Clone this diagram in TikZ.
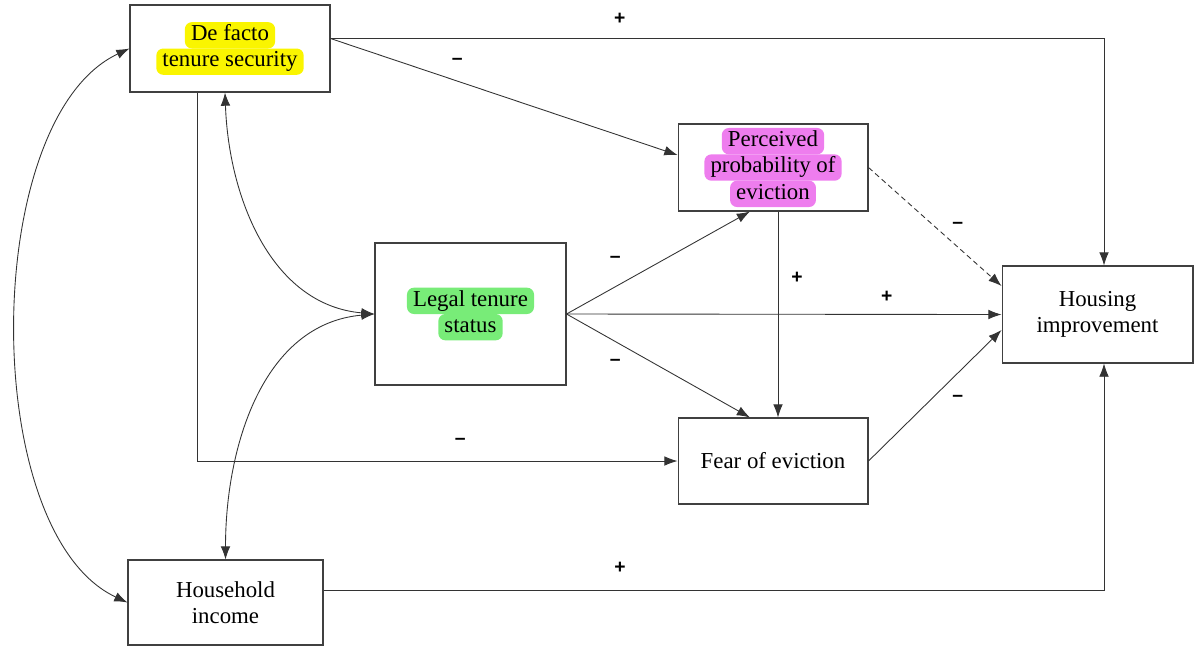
\documentclass[tikz,border=0pt]{standalone}
\usepackage{fontspec}
\setmainfont{Liberation Serif}
\newfontfamily\signfont{Liberation Sans}
\usetikzlibrary{arrows.meta}

\definecolor{hlyellow}{RGB}{250,245,0}
\definecolor{hlpink}{RGB}{238,125,238}
\definecolor{hlgreen}{RGB}{120,236,120}

% one highlighted line of text
\newcommand{\hlline}[2]{\tikz[baseline=(hlbox.base)]\node[draw=none, fill=#1, rounded corners=4pt,
  minimum width=0pt, minimum height=0pt, inner xsep=3.5pt, inner ysep=0pt] (hlbox) {\strut #2};}

\tikzset{
  box/.style={draw=black!75, line width=0.6pt, align=center, inner sep=2pt,
    font=\fontsize{13}{15}\selectfont},
  link/.style={->, draw=black!80, line width=0.5pt},
  sign/.style={font=\signfont\bfseries\fontsize{11}{13}\selectfont, inner sep=1pt}
}

\begin{document}
\begin{tikzpicture}[>={Latex[length=7.5pt,width=5.5pt]}, x=0.02cm, y=0.02cm]
    \useasboundingbox (0,0) rectangle (1195,-647);

    % Boxes
    \node[box, minimum width=4cm, minimum height=1.74cm] (defacto) at (230,-48.5)
        {\hlline{hlyellow}{De facto}\\\hlline{hlyellow}{tenure security}};
    \node[box, minimum width=3.8cm, minimum height=1.74cm] (perceived) at (773,-167.5)
        {\hlline{hlpink}{Perceived}\\\hlline{hlpink}{probability of}\\\hlline{hlpink}{eviction}};
    \node[box, minimum width=3.82cm, minimum height=2.84cm] (legal) at (470.5,-314)
        {\hlline{hlgreen}{Legal tenure}\\\hlline{hlgreen}{status}};
    \node[box, minimum width=3.82cm, minimum height=1.94cm] (housing) at (1097.5,-314.5)
        {Housing\\improvement};
    \node[box, minimum width=3.8cm, minimum height=1.72cm] (fear) at (773,-461)
        {Fear of eviction};
    \node[box, minimum width=3.9cm, minimum height=1.7cm] (income) at (225.5,-602.5)
        {Household\\income};

    % Correlations
    \draw[link, <->] (income.west) to[out=155, in=205, looseness=0.76] (defacto.west);
    \draw[link, <->] ([xshift=-0.1cm]defacto.south) to[out=-88, in=175] (legal.west);
    \draw[link, <->] (income.north) to[out=90, in=185] (legal.west);

    % Paths with signs
    \draw[link] ([yshift=0.2cm]defacto.east) -| ([xshift=0.13cm]housing.north)
        node[sign, pos=0.187, yshift=0.4cm] (s1) {+};
    \draw[link] ([yshift=0.2cm]defacto.east) -- ([yshift=0.25cm]perceived.west)
        node[sign, pos=0.365, yshift=0.4cm] (s2) {\textendash};
    \draw[link, dash pattern=on 3pt off 2pt] (perceived.east) -- ([yshift=0.57cm]housing.west)
        node[sign, pos=0.67, yshift=0.42cm] (s3) {\textendash};
    \draw[link] ([xshift=0.1cm]perceived.south) -- ([xshift=0.1cm]fear.north)
        node[sign, pos=0.32, xshift=0.38cm] (s4) {+};
    \draw[link] (legal.east) -- ([xshift=-0.46cm]perceived.south)
        node[sign, pos=0.266, yshift=0.55cm] (s5) {\textendash};
    \draw[link] (legal.east) -- (housing.west)
        node[sign, pos=0.736, yshift=0.36cm] (s6) {+};
    \draw[link] (legal.east) -- ([xshift=-0.46cm]fear.north)
        node[sign, pos=0.266, yshift=-0.42cm] (s7) {\textendash};
    \draw[link] (fear.east) -- ([yshift=-0.31cm]housing.west)
        node[sign, pos=0.67, yshift=-0.5cm] (s8) {\textendash};
    \draw[link] ([xshift=-0.66cm]defacto.south) |- (fear.west)
        node[sign, pos=0.774, yshift=0.4cm] (s9) {\textendash};
    \draw[link] ([yshift=0.25cm]income.east) -| ([xshift=0.13cm]housing.south)
        node[sign, pos=0.19, yshift=0.44cm] (s10) {+};
\end{tikzpicture}
\end{document}
